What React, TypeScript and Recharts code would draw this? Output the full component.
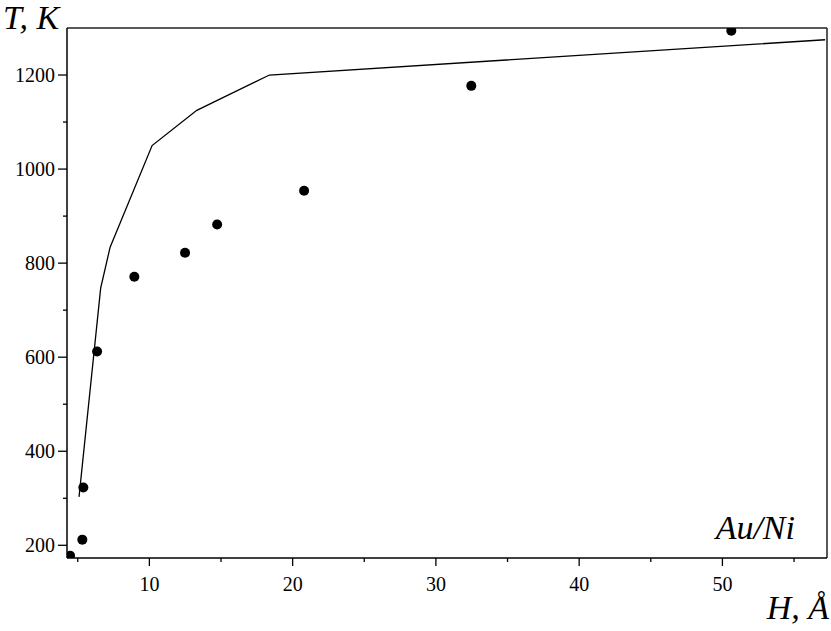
import React from "react";
import { ScatterChart, Scatter, XAxis, YAxis, ReferenceLine } from "recharts";

const measuredH = [4.46, 5.32, 5.39, 6.35, 8.95, 12.49, 14.73, 20.8, 32.47, 50.62];
const measuredT = [178, 212, 323, 612, 771, 822, 882, 954, 1177, 1294];

const modelH = [5.09, 6.6, 7.26, 10.19, 13.31, 18.38, 57.17];
const modelT = [303, 747, 834, 1050, 1125, 1200, 1275];

const xTicks = [5, 10, 15, 20, 25, 30, 35, 40, 45, 50, 55];
const yTicks = [200, 300, 400, 500, 600, 700, 800, 900, 1000, 1100, 1200];
const xMajor = [10, 20, 30, 40, 50];
const yMajor = [200, 400, 600, 800, 1000, 1200];

const X_DOMAIN: [number, number] = [4.25, 57.3];
const Y_DOMAIN: [number, number] = [173, 1300];

const measured = measuredH.map((h, i) => ({ h, t: measuredT[i] }));
const model = modelH.map((h, i) => ({ h, t: modelT[i] }));

const FONT = "'Liberation Serif', 'Times New Roman', serif";
const tickStyle = { fontFamily: FONT, fontSize: 20 };

const XTick = (props: any) => {
  const { x, y, payload } = props;
  const major = xMajor.includes(payload.value);
  return (
    <g>
      <line x1={x} y1={y} x2={x} y2={y + (major ? 8 : 4)} stroke="#000" strokeWidth={1.3} />
      {major && (
        <text x={x} y={y + 33} textAnchor="middle" style={tickStyle} fill="#000">
          {payload.value}
        </text>
      )}
    </g>
  );
};

const YTick = (props: any) => {
  const { x, y, payload } = props;
  const major = yMajor.includes(payload.value);
  return (
    <g>
      <line x1={x} y1={y} x2={x - (major ? 9 : 4)} y2={y} stroke="#000" strokeWidth={1.3} />
      {major && (
        <text x={x - 12} y={y + 7} textAnchor="end" style={tickStyle} fill="#000">
          {payload.value}
        </text>
      )}
    </g>
  );
};

const NoShape = () => <g />;

export default function App() {
  return (
    <div style={{ position: "absolute", left: 0, top: 0, width: 831, height: 631, background: "#fff", fontFamily: FONT }}>
      <ScatterChart width={831} height={631} margin={{ top: 28, right: 4, bottom: 33, left: 0 }} style={{ fontFamily: FONT }}>
        <XAxis
          type="number"
          dataKey="h"
          domain={X_DOMAIN}
          ticks={xTicks}
          allowDataOverflow
          height={40}
          tickSize={0}
          tickMargin={0}
          tickLine={false}
          tick={<XTick />}
          axisLine={{ stroke: "#000", strokeWidth: 1.5 }}
        />
        <YAxis
          type="number"
          dataKey="t"
          domain={Y_DOMAIN}
          ticks={yTicks}
          allowDataOverflow
          width={67}
          tickSize={0}
          tickMargin={0}
          tickLine={false}
          tick={<YTick />}
          axisLine={{ stroke: "#000", strokeWidth: 1.5 }}
        />
        <ReferenceLine y={Y_DOMAIN[1]} stroke="#222" strokeWidth={1.5} />
        <ReferenceLine x={X_DOMAIN[1]} stroke="#222" strokeWidth={1.5} />
        <Scatter
          data={model}
          line={{ stroke: "#000", strokeWidth: 1.3 }}
          shape={<NoShape />}
          isAnimationActive={false}
        />
        <Scatter data={measured} fill="#000" shape={(p: any) => <circle cx={p.cx} cy={p.cy} r={5} fill="#000" />} isAnimationActive={false} />
      </ScatterChart>
      <svg width={831} height={631} style={{ position: "absolute", left: 0, top: 0, pointerEvents: "none" }}>
        <text x={3} y={29} style={{ fontFamily: FONT, fontStyle: "italic", fontSize: 34 }} fill="#000">T, K</text>
        <text x={829} y={619} textAnchor="end" style={{ fontFamily: FONT, fontStyle: "italic", fontSize: 34 }} fill="#000">H, Å</text>
        <text x={795} y={539} textAnchor="end" style={{ fontFamily: FONT, fontStyle: "italic", fontSize: 34 }} fill="#000">Au/Ni</text>
      </svg>
    </div>
  );
}
